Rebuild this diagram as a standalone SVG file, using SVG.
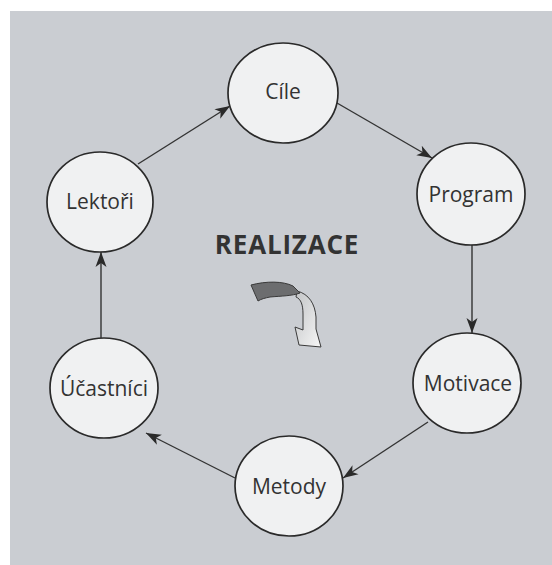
<svg xmlns="http://www.w3.org/2000/svg" width="552" height="565" viewBox="0 0 552 565">
<defs>
<style>
.node ellipse{fill:#f0f1f2;stroke:#2a2a2a;stroke-width:1.7}
.node text{font-family:"Open Sans","Noto Sans",sans-serif;font-size:21px;fill:#333;text-anchor:middle}
.edge{stroke:#333;stroke-width:1.4;fill:none;marker-end:url(#ah)}
.title{font-family:"Open Sans","Noto Sans",sans-serif;font-weight:bold;font-size:26px;fill:#333;text-anchor:middle;letter-spacing:0.8px}
</style>
<marker id="ah" markerUnits="userSpaceOnUse" markerWidth="17" markerHeight="12" refX="15" refY="5.5" orient="auto" viewBox="0 0 17 11">
<path d="M0,0 L15,5.5 L0,11 L4,5.5 z" fill="#2a2a2a"/>
</marker>
<linearGradient id="cg" x1="0" y1="0" x2="1" y2="1">
<stop offset="0" stop-color="#c2c4c6"/>
<stop offset="1" stop-color="#f6f6f6"/>
</linearGradient>
</defs>
<rect x="0" y="0" width="552" height="565" fill="#ffffff"/>
<rect x="10" y="11" width="542" height="554" fill="#cacdd2"/>
<g id="connectors">
<line class="edge" x1="138" y1="164" x2="230" y2="106"/>
<line class="edge" x1="337" y1="103" x2="432" y2="158"/>
<line class="edge" x1="472" y1="245" x2="472" y2="333"/>
<line class="edge" x1="428" y1="422" x2="343" y2="478"/>
<line class="edge" x1="235" y1="478" x2="146" y2="433"/>
<line class="edge" x1="101" y1="338" x2="101" y2="252"/>
</g>
<g id="n-cile" class="node"><ellipse cx="283" cy="93" rx="55" ry="50"/><text x="283" y="99">Cíle</text></g>
<g id="n-program" class="node"><ellipse cx="471" cy="194" rx="54" ry="51"/><text x="471" y="202">Program</text></g>
<g id="n-motivace" class="node"><ellipse cx="467" cy="383" rx="54" ry="50"/><text x="468" y="391">Motivace</text></g>
<g id="n-metody" class="node"><ellipse cx="289" cy="486" rx="54" ry="50"/><text x="289" y="494">Metody</text></g>
<g id="n-ucastnici" class="node"><ellipse cx="104" cy="388" rx="54" ry="50"/><text x="104" y="396">Účastníci</text></g>
<g id="n-lektori" class="node"><ellipse cx="100" cy="202" rx="53" ry="50"/><text x="100" y="209">Lektoři</text></g>
<g id="title"><text class="title" x="287" y="254">REALIZACE</text></g>
<g id="cycle-arrow" stroke="#3a3a3a" stroke-width="1">
<path d="M297,291 C309,294 315,304 316,317 L316,329 L321,347 L299,345 L295,327 L303,330 L303,314 C303,305 301,299 296,297 Z" fill="url(#cg)"/>
<path d="M251,285 C266,281 283,281 293,286 L300,293 C292,296 281,296 270,297 C265,298 261,299 258,301 Z" fill="#6c6d6f"/>
</g>
</svg>
